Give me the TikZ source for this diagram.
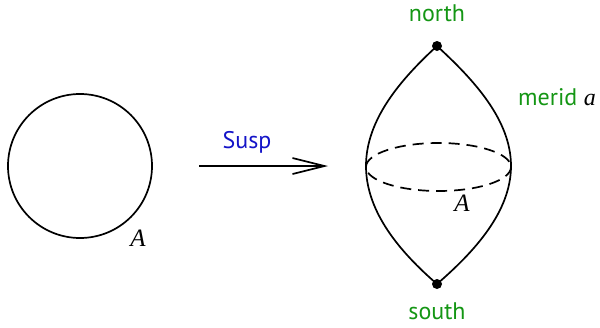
\documentclass[tikz,border=0pt]{standalone}
\usepackage{fontspec}
\setmainfont{PT Sans}
\newfontfamily\mathserif{Liberation Serif}
\usetikzlibrary{arrows.meta}
\definecolor{lblgreen}{RGB}{20,150,20}
\definecolor{lblblue}{RGB}{20,20,200}
\begin{document}
\begin{tikzpicture}[x=1pt,y=-1pt,
  curve/.style={line width=1.7pt,black},
  lbl/.style={font=\fontsize{24}{27}\selectfont},
  mathlbl/.style={font=\fontsize{25}{28}\selectfont\mathserif\itshape},
  pt/.style={circle,fill=black,inner sep=0pt,minimum size=10pt}]
\useasboundingbox (0,0) rectangle (600,327);
% left circle
\node[draw,curve,circle,minimum size=144pt,inner sep=0pt] (circ) at (80,166) {};
\node[mathlbl] (A1) at (138,238) {A};
% arrow
\coordinate (as) at (199,166);
\coordinate (ae) at (328,166);
\draw[line width=1.7pt,-{Straight Barb[length=32pt,width=16pt,line width=1.7pt]}] (as) -- (ae);
\node[lbl,text=lblblue] (susp) at (247,142) {Susp};
% suspension
\node[pt] (north) at (437,46) {};
\node[pt] (south) at (437,284) {};
\coordinate (west) at (366,166);
\coordinate (east) at (511,166);
\draw[curve] (north.center) .. controls (400,80) and (366,120) .. (west) .. controls (366,212) and (400,252) .. (south.center);
\draw[curve] (north.center) .. controls (474,80) and (511,120) .. (east) .. controls (511,212) and (474,252) .. (south.center);
\draw[curve,dash pattern=on 11pt off 7pt] (438.5,167) ellipse (72.5 and 24);
\node[mathlbl] (A2) at (462,203) {A};
\node[lbl,text=lblgreen] (nlab) at (437,13) {north};
\node[lbl,text=lblgreen] (slab) at (437,311) {south};
\node[lbl] (mlab) at (557,97) {\textcolor{lblgreen}{merid} {\mathserif\itshape a}};
\end{tikzpicture}
\end{document}
